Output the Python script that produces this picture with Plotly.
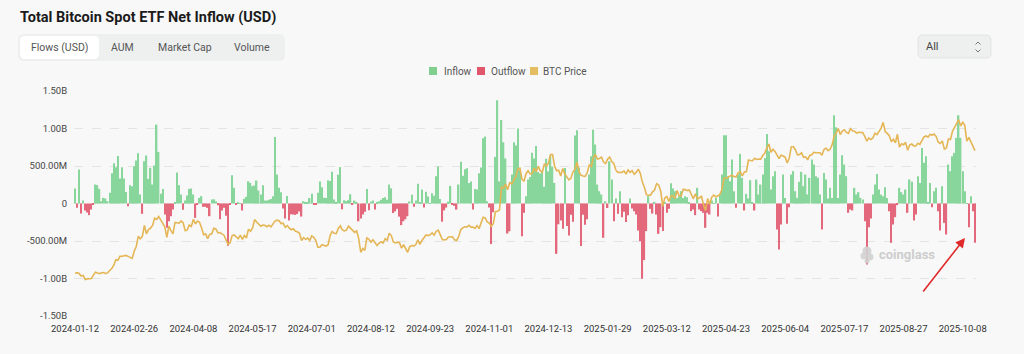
import plotly.graph_objects as go
import pandas as pd

# ---------------- text ----------------
title_text = "Total Bitcoin Spot ETF Net Inflow (USD)"
tab_labels = ["Flows (USD)", "AUM", "Market Cap", "Volume"]
range_label = "All"
legend_labels = ["Inflow", "Outflow", "BTC Price"]
watermark_text = "coinglass"
x_tick_labels = ["2024-01-12", "2024-02-26", "2024-04-08", "2024-05-17", "2024-07-01",
                 "2024-08-12", "2024-09-23", "2024-11-01", "2024-12-13", "2025-01-29",
                 "2025-03-12", "2025-04-23", "2025-06-04", "2025-07-17", "2025-08-27",
                 "2025-10-08"]
y_tick_values = [1.5e9, 1.0e9, 5.0e8, 0, -5.0e8, -1.0e9, -1.5e9]
y_tick_labels = ["1.50B", "1.00B", "500.00M", "0", "-500.00M", "-1.00B", "-1.50B"]

# ---------------- categories (US trading days) ----------------
market_holidays = ["2024-01-15", "2024-02-19", "2024-03-29", "2024-05-27", "2024-06-19",
                   "2024-07-04", "2024-09-02", "2024-11-28", "2024-12-25", "2025-01-01",
                   "2025-01-09", "2025-01-20", "2025-02-17", "2025-04-18", "2025-05-26",
                   "2025-06-19", "2025-07-04", "2025-09-01"]
dates = [d.strftime("%Y-%m-%d") for d in
         pd.bdate_range("2024-01-12", "2025-10-16", freq="C", holidays=market_holidays)]

# ---------------- net flows, million USD ----------------
flows_2024 = [
    200, -58, 453, -133, 40, -93, -120, -155, -80, -10,
    253, 245, 195, 30, 75, 67, 31, 142, 404, 537,
    484, 635, 333, 484, 333, 155, -36, 244, 231, 497,
    573, 670, 120, -138, 564, 640, 329, 475, 253, 506,
    1052, 688, 129, 195, -147, -324, -235, -169, -80, 9,
    413, 244, 120, -84, 40, 107, 195, 200, 120, -191,
    -13, 75, 98, -44, -44, -58, -169, 53, 58, 31,
    -22, -209, -93, -58, -162, -563, -10, 378, 209, -13,
    9, 4, -93, 62, 89, 297, 275,
    231, 240, 306, 173, 120, 244, 40, 40, 50, 60,
    98, 888, 386, 209, 151, -65, -200, 100, -226, -145,
    -146, -152, -140, -106, -174, 31, 21, 11, 73, 129,
    -13, -20, 143, 295, 216, 78, 73, 310, 301, 422,
    53, 20, 383, 486, -78, 44, 31, 44, 124, -18,
    40, 20, -237, -200, -147, -111, 195, -89, 27, 40,
    -81, 11, 30, 49, 75, 84, 49, 253, 202, -127,
    -105, -71, -175, -288, -237, -211, -170, 28, 117, -43,
    39, 263, 12, 187, -53, 158, 93,
    4, 136, 105, 365, 494, 61, -242, -92, -54, 25,
    235, -18, -30, -81, 253, 556, 371, 458, 470, 273,
    294, -79, 192, 188, 402, 479, 870, 893, 30, -54,
    -541, -116, 622, 1376, 294, 1114, 817, 600, -400, -370,
    386, 816, 773, 1000, 450, -438, -122, 98, 320, 353,
    676, 600, 766, 420, 400, 438, 223, 597, 428, 637,
    493, 275, -671, -277, -226, -338, 475, -300, -426, -150,
]
flows_2025 = [
    -242, 908, 978, 480, -568, -149, -284, -209, 386, 630,
    985, 786, 253, 164, 120, -457, 30, -60, 564,
    320, -235, 67, -138, 164, -182, -111, -248, -155, 67,
    -67, -102, -147, -360, -502, -1004, -755, -368, 98, -71,
    -133, 22, -147, -404, -315, -368, 18, -124, -71, 271,
    200, 164, 75, 98, 164, 75, 98, 84, 10, -102,
    -80, -155, 209, -80, -102, -124, -324, -124, -147, 40,
    5, 75, -173, 120, 386, 909, 909, 364, 298, 586,
    164, -58, 386, 662, 342, -93, 129, 67, 311, 10,
    -93, 320, 120, 253, 386, 608, 927, 697, 187, 364,
    430, -346, -612, -280, 386, 75, -271, -49,
    386, 431, 164, 75, 289, 422, 231, 386, 120, 342,
    586, 519, 364, 342, 120, -346, 408, 320, 67, 209,
    75, 1177, 1017, 75, 386, 644, 519, 364, -124, -80,
    -93, 209, 120, 151, 75, 53, -235, -812, -315, -200,
    120, 253, 395, 186, 120, 98, 218, 75, -102, -524,
    -280, -182, -22, 209, 151, 120, 186, -124, 320, 289,
    -226, -147, 364, 275, 741, 542, 630, 9, 275, -49,
    164, 209, -102, -360, 231, -258, -413, 519, 431, 630,
    675, 875, 1177, 875, 431, 164, 4, -315, 98, -102,
    -524,
]

# ---------------- BTC price, thousand USD ----------------
price_2024 = [
    42.8, 43.1, 42.7, 41.3, 41.6, 39.5, 39.8, 40.1, 40.0, 41.8, 43.3, 42.9, 42.6,
    43.1, 43.2, 42.6, 43.1, 44.3, 45.3, 47.1, 50.0, 49.7, 51.8, 51.9, 52.1, 52.3, 51.8, 51.3, 50.7, 54.5, 57.1, 62.5, 61.2,
    62.4, 68.3, 63.8, 66.1, 66.9, 68.3, 72.1, 71.5, 73.1, 71.4, 69.4, 67.6, 61.9, 67.9, 65.5, 63.8, 69.9, 69.9, 69.5, 70.7,
    69.6, 65.5, 65.9, 68.5, 67.8, 71.6, 69.1, 70.6, 70.0, 67.1, 63.4, 63.8, 61.3, 63.5, 63.8, 66.8, 66.4, 64.3, 64.5, 63.8, 63.1, 60.6,
    58.3, 59.1, 62.9, 63.2, 62.3, 61.2, 63.1, 60.8, 62.9, 61.6, 66.3, 65.2, 67.0, 71.4, 70.1, 69.1, 67.9, 68.5, 68.4, 67.6, 68.4, 67.5,
    68.8, 70.6, 71.1, 70.8, 69.3, 69.5, 67.3, 68.2, 66.8, 66.0, 66.5, 65.2, 64.9, 64.1, 60.3, 61.8, 60.9, 61.6, 60.3,
    62.7, 62.0, 60.2, 56.7, 56.7, 58.0, 57.7, 57.3, 57.9, 62.9, 65.1, 64.1, 63.9, 66.7, 68.1, 65.9, 65.4, 65.8, 67.9, 66.8, 66.2, 64.6,
    65.4, 61.4, 54.0, 56.0, 55.0, 61.7, 60.9, 59.4, 60.6, 58.7, 57.6, 58.9, 59.5, 59.0, 61.2, 60.4, 64.1, 62.9, 59.5, 59.0, 59.4, 59.1,
    56.2, 58.0, 56.2, 54.0, 57.0, 57.6, 57.3, 58.1, 60.6, 58.2, 60.3, 61.8, 63.2, 62.9, 63.3, 64.3, 63.1, 65.2, 65.8, 63.3,
    60.8, 60.6, 60.8, 62.1, 62.3, 62.2, 60.6, 60.3, 62.4, 66.0, 67.0, 67.6, 67.4, 68.4, 67.4, 67.4, 66.7, 68.2, 66.6, 69.9, 72.7, 72.3, 70.2,
    69.5, 67.8, 69.4, 75.6, 75.9, 76.5, 88.7, 88.3, 90.4, 87.3, 91.1, 90.5, 92.3, 94.3, 98.4, 98.9, 93.0, 91.9, 95.9, 97.5,
    95.8, 96.0, 98.8, 97.0, 99.9, 97.4, 96.7, 101.2, 100.0, 101.5, 106.1, 106.1, 100.0, 97.5, 97.8, 94.7, 98.7, 95.8, 94.2, 92.6, 93.4,
]
price_2025 = [
    96.9, 98.1, 102.1, 96.9, 95.0, 94.7, 94.5, 96.5, 100.5, 99.8, 104.5, 106.1, 103.7, 104.0, 104.7, 102.1, 101.3, 103.7, 104.7, 102.4,
    101.4, 97.9, 96.6, 96.6, 96.6, 97.4, 95.7, 97.9, 96.6, 97.5, 95.6, 96.6, 98.3, 96.1, 91.4, 88.7, 84.7, 84.4, 84.4,
    86.2, 87.2, 90.6, 89.9, 86.7, 78.5, 83.0, 83.7, 81.1, 84.0, 84.1, 82.7, 86.9, 84.2, 84.0, 87.5, 87.4, 86.9, 87.2, 84.4, 82.5,
    85.2, 82.5, 83.1, 83.8, 79.2, 76.3, 82.6, 79.6, 83.4, 84.5, 83.6, 84.0, 84.9, 87.5, 93.4, 93.7, 93.9, 94.7, 95.0, 94.3, 94.2,
    96.5, 96.9, 94.7, 96.8, 97.0, 103.2, 102.9, 102.8, 104.1, 103.5, 103.7, 103.6, 105.6, 106.8, 109.7, 111.7, 107.3, 108.9, 107.8, 105.6, 103.9,
    105.8, 105.4, 104.7, 101.6, 104.3, 110.3, 110.3, 108.7, 105.9, 106.1, 107.0, 104.6, 104.9, 103.3, 105.6, 106.0, 107.3, 107.1, 107.1, 107.1,
    105.7, 108.8, 109.6, 108.2, 108.9, 111.3, 115.9, 117.5, 120.0, 116.7, 118.6, 119.3, 117.9, 117.4, 119.9, 118.8, 118.6, 117.6, 118.0, 117.9, 117.8, 115.8,
    113.3, 115.0, 114.1, 115.0, 117.5, 116.7, 118.7, 120.2, 123.3, 118.4, 117.4, 116.2, 112.9, 114.3, 112.4, 116.9, 110.1, 111.8, 111.3, 112.6, 108.4,
    111.2, 111.7, 110.7, 110.7, 112.1, 111.5, 113.9, 115.5, 116.1, 115.4, 116.8, 116.5, 117.1, 115.7, 112.7, 112.0, 113.3, 109.0, 109.6, 114.4, 114.1,
    118.6, 120.6, 122.3, 124.7, 121.4, 123.3, 121.7, 113.2, 115.3, 113.1, 110.8, 108.2,
]

flows = flows_2024 + flows_2025
prices = price_2024 + price_2025
assert len(dates) == len(flows) == len(prices), (len(dates), len(flows), len(prices))

inflow = [v * 1e6 if v > 0 else None for v in flows]
outflow = [v * 1e6 if v < 0 else None for v in flows]

# ---------------- styles ----------------
GREEN = "#88d69c"
RED = "#e3687b"
GOLD = "#e4b655"
BG = "#f8f8f8"
FONT = "Roboto"
TICKFONT = "Roboto"

W, H = 1024, 354
L, R, T, B = 74, 976, 91, 316


def X(px):
    return (px - L) / (R - L)


def Y(py):
    return (B - py) / (B - T)


def rrect(x0, y0, x1, y1, r):
    return (f"M {X(x0 + r)},{Y(y0)} L {X(x1 - r)},{Y(y0)} Q {X(x1)},{Y(y0)} {X(x1)},{Y(y0 + r)} "
            f"L {X(x1)},{Y(y1 - r)} Q {X(x1)},{Y(y1)} {X(x1 - r)},{Y(y1)} "
            f"L {X(x0 + r)},{Y(y1)} Q {X(x0)},{Y(y1)} {X(x0)},{Y(y1 - r)} "
            f"L {X(x0)},{Y(y0 + r)} Q {X(x0)},{Y(y0)} {X(x0 + r)},{Y(y0)} Z")


fig = go.Figure()
fig.add_trace(go.Bar(x=dates, y=inflow, name=legend_labels[0], marker=dict(color=GREEN, line=dict(width=0)),
                     showlegend=False))
fig.add_trace(go.Bar(x=dates, y=outflow, name=legend_labels[1], marker=dict(color=RED, line=dict(width=0)),
                     showlegend=False))
fig.add_trace(go.Scatter(x=dates, y=prices, name=legend_labels[2], yaxis="y2", mode="lines",
                         line=dict(color=GOLD, width=1.6), showlegend=False))

shapes = []
annotations = []

# title
annotations.append(dict(text=f"<b>{title_text}</b>", x=X(18), y=Y(17), xref="paper", yref="paper",
                        xanchor="left", yanchor="middle", showarrow=False,
                        font=dict(family=FONT, size=14.5, color="#1b1b1b")))
# tabs
shapes.append(dict(type="path", path=rrect(18, 34, 285, 61, 6), xref="paper", yref="paper",
                   fillcolor="#eef0f0", line=dict(width=0), layer="below"))
shapes.append(dict(type="path", path=rrect(20, 36, 99, 59, 5), xref="paper", yref="paper",
                   fillcolor="#ffffff", line=dict(width=0), layer="below"))
for lab, cx in zip(tab_labels, [59.5, 122.5, 184.5, 252]):
    annotations.append(dict(text=lab, x=X(cx), y=Y(47.5), xref="paper", yref="paper",
                            xanchor="center", yanchor="middle", showarrow=False,
                            font=dict(family=FONT, size=10.5, color="#555555")))
# dropdown
shapes.append(dict(type="path", path=rrect(918, 35, 991, 58, 5), xref="paper", yref="paper",
                   fillcolor="#eef0ef", line=dict(width=1, color="#e2e4e3"), layer="below"))
annotations.append(dict(text=range_label, x=X(924), y=Y(46.8), xref="paper", yref="paper",
                        xanchor="left", yanchor="middle", showarrow=False,
                        font=dict(family=FONT, size=11, color="#444444")))
shapes.append(dict(type="path", path=f"M {X(975.5)},{Y(44.5)} L {X(978)},{Y(42)} L {X(980.5)},{Y(44.5)}",
                   xref="paper", yref="paper", line=dict(width=1, color="#777777")))
shapes.append(dict(type="path", path=f"M {X(975.5)},{Y(49.5)} L {X(978)},{Y(52)} L {X(980.5)},{Y(49.5)}",
                   xref="paper", yref="paper", line=dict(width=1, color="#777777")))
# legend (drawn)
for lab, col, sx, tx in zip(legend_labels, ["#7fcf8f", "#e0566a", "#e3bd5f"], [429, 477, 530], [442, 489, 541]):
    shapes.append(dict(type="rect", x0=X(sx), x1=X(sx + 8), y0=Y(67), y1=Y(75), xref="paper", yref="paper",
                       fillcolor=col, line=dict(width=0)))
    annotations.append(dict(text=lab, x=X(tx), y=Y(71), xref="paper", yref="paper",
                            xanchor="left", yanchor="middle", showarrow=False,
                            font=dict(family=FONT, size=10, color="#555555")))
# watermark
for cx, cy, r in [(867, 251, 4.5), (864, 256, 3.5), (870, 257, 3.5), (867, 261, 2.5)]:
    shapes.append(dict(type="circle", x0=X(cx - r), x1=X(cx + r), y0=Y(cy - r), y1=Y(cy + r),
                       xref="paper", yref="paper", fillcolor="#d2d2d2", line=dict(width=0), opacity=0.9))
annotations.append(dict(text=f"<b>{watermark_text}</b>", x=X(877), y=Y(254.5), xref="paper", yref="paper",
                        xanchor="left", yanchor="middle", showarrow=False,
                        font=dict(family=FONT, size=13, color="#cdcdcd")))
# red arrow
annotations.append(dict(text="", x=X(965), y=Y(238), xref="paper", yref="paper",
                        ax=-43, ay=55, showarrow=True, arrowhead=2, arrowsize=1.2, arrowwidth=1.6,
                        arrowcolor="#e02a2a"))

fig.update_layout(
    width=W, height=H, autosize=False,
    margin=dict(l=L, r=W - R, t=T, b=H - B, pad=0),
    paper_bgcolor=BG, plot_bgcolor=BG,
    barmode="overlay", bargap=0.3,
    showlegend=False,
    shapes=shapes, annotations=annotations,
    xaxis=dict(type="category", tickmode="array", tickvals=x_tick_labels, ticktext=x_tick_labels,
               showgrid=False, showline=False, zeroline=False, ticks="outside", ticklen=4, tickcolor=BG,
               tickangle=0,
               tickfont=dict(family=TICKFONT, size=9.5, color="#333333"), range=[-0.5, len(dates) - 0.5]),
    yaxis=dict(range=[-1.5e9, 1.5e9], tickmode="array", tickvals=y_tick_values, ticktext=y_tick_labels,
               showgrid=True, gridcolor="#e4e4e4", griddash="dash", gridwidth=1, zeroline=False,
               showline=False, ticks="outside", ticklen=4, tickcolor=BG,
               tickfont=dict(family=TICKFONT, size=9.5, color="#444444")),
    yaxis2=dict(range=[20, 140], overlaying="y", side="right", visible=False, showgrid=False),
    font=dict(family=FONT),
)

fig.write_html("out.html", config={"displayModeBar": False},
               post_script="document.body.style.margin='0';")
